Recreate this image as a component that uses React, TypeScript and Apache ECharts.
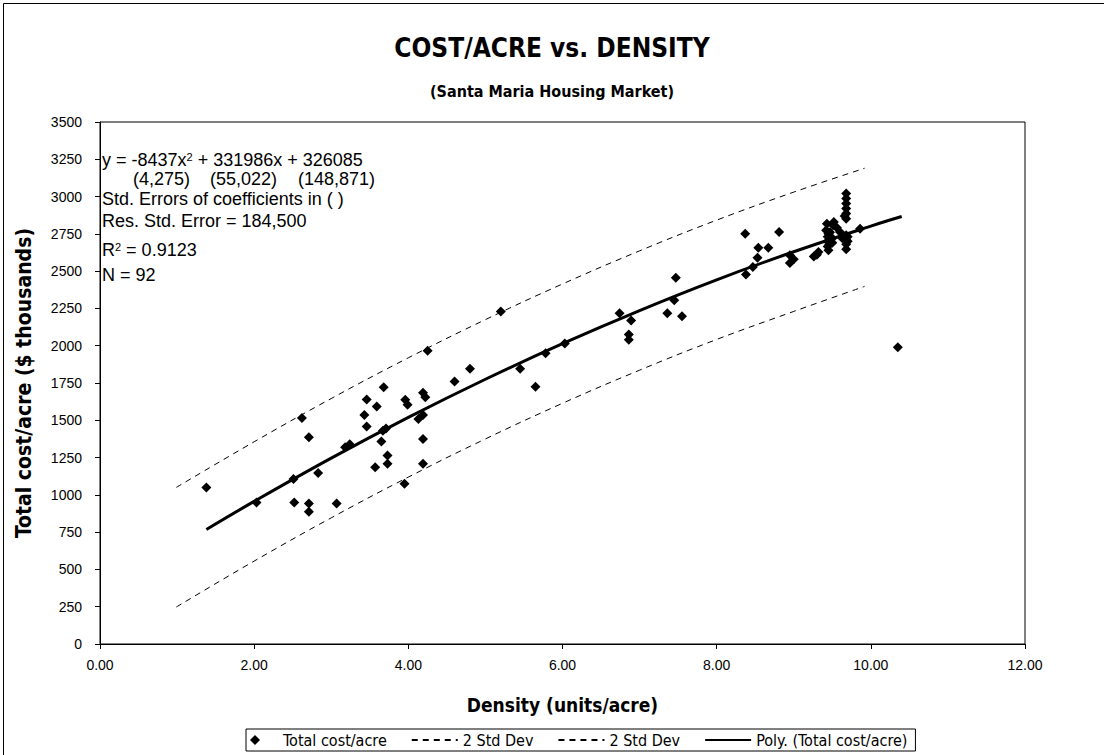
import React, { useEffect, useRef } from "react";
import * as echarts from "echarts";

// Observed data: density (units/acre) and total cost/acre ($ thousands)
const densities = [
  1.38, 2.03, 2.51, 2.52, 2.71, 2.71, 2.83, 3.07, 2.62, 2.71,
  3.18, 3.24, 3.43, 3.46, 3.46, 3.59, 3.68, 3.67, 3.71, 3.65,
  3.73, 3.73, 3.57, 3.95, 3.96, 3.99, 4.13, 4.19, 4.19, 4.22,
  4.19, 4.19, 4.25, 4.6, 4.8, 5.2, 5.45, 5.65, 5.78, 6.03,
  6.74, 6.89, 6.86, 6.86, 7.45, 7.47, 7.36, 7.55, 8.38, 8.37,
  8.54, 8.67, 8.81, 8.53, 8.47, 8.95, 8.95, 9.0, 9.26, 9.32,
  9.43, 9.42, 9.44, 9.44, 9.44, 9.45, 9.51, 9.56, 9.6, 9.68,
  9.68, 9.68, 9.68, 9.68, 9.68, 9.68, 9.68, 9.68, 9.68, 9.63,
  9.86, 10.35, 9.47, 9.5, 9.5, 9.52, 9.46, 9.7, 9.66, 9.7,
  9.3, 9.45,
];
const costs = [
  1050, 949, 1106, 949, 942, 887, 1146, 942, 1516, 1386,
  1320, 1340, 1536, 1640, 1459, 1592, 1721, 1430, 1445, 1358,
  1264, 1208, 1185, 1074, 1637, 1605, 1509, 1536, 1684, 1654,
  1375, 1208, 1966, 1760, 1845, 2230, 1845, 1725, 1950, 2015,
  2218, 2169, 2075, 2040, 2304, 2456, 2218, 2198, 2478, 2751,
  2657, 2657, 2762, 2590, 2527, 2606, 2554, 2580, 2599, 2628,
  2818, 2774, 2730, 2700, 2665, 2640, 2807, 2791, 2762, 3020,
  2987, 2953, 2920, 2886, 2852, 2740, 2711, 2680, 2646, 2720,
  2785, 1990, 2760, 2690, 2720, 2830, 2680, 2700, 2870, 2730,
  2610, 2750,
];

// Polynomial trend line
const fitX = [1.38, 2, 3, 4, 5, 6, 7, 8, 9, 10, 10.4];
const fitY = [768, 956, 1246, 1519, 1775, 2014, 2236, 2442, 2630, 2802, 2866];

// +/- 2 standard deviation bands
const bandX = [0.99, 2, 3, 4, 5, 6, 7, 8, 9, 9.92];
const upperBand = [1050, 1356, 1646, 1919, 2175, 2414, 2636, 2842, 3030, 3190];
const lowerBand = [248, 556, 846, 1119, 1375, 1614, 1836, 2042, 2230, 2398];

const xTickLabels = ["0.00", "2.00", "4.00", "6.00", "8.00", "10.00", "12.00"];
const yTickLabels = ["0", "250", "500", "750", "1000", "1250", "1500", "1750", "2000", "2250", "2500", "2750", "3000", "3250", "3500"];

const titleText = "COST/ACRE vs. DENSITY";
const subtitleText = "(Santa Maria Housing Market)";
const eqLine = "y = -8437x{sup|2} + 331986x + 326085";
const seLabels = ["(4,275)", "(55,022)", "(148,871)"];
const statLines = ["Std. Errors of coefficients in ( )", "Res. Std. Error = 184,500"];
const r2Line = "R{sup|2} = 0.9123";
const nLine = "N = 92";

const NARROW = "'Liberation Sans Narrow', 'DejaVu Sans Condensed', 'Arial Narrow', sans-serif";
const SANS = "'Liberation Sans', Arial, sans-serif";

function pair(xs: number[], ys: number[]) {
  return xs.map((x, i) => [x, ys[i]]);
}

export default function App() {
  const ref = useRef<HTMLDivElement>(null);
  useEffect(() => {
    document.body.style.margin = "0";
    if (!ref.current) return;
    const chart = echarts.init(ref.current, null, { renderer: "svg" });
    const eqStyle = { fontFamily: SANS, fontSize: 18, fill: "#000" };
    const rich = { sup: { fontFamily: SANS, fontSize: 11, verticalAlign: "top" as const, fill: "#000" } };
    const hiddenDot = { itemStyle: { opacity: 0 } };
    chart.setOption({
      animation: false,
      backgroundColor: "#fff",
      title: [
        {
          text: titleText,
          left: "center",
          top: 30,
          textStyle: { fontFamily: NARROW, fontSize: 26, fontWeight: "bold", color: "#000" },
        },
        {
          text: subtitleText,
          left: "center",
          top: 78,
          textStyle: { fontFamily: NARROW, fontSize: 16, fontWeight: "bold", color: "#000" },
        },
      ],
      grid: {
        left: 100,
        top: 122,
        right: 79,
        bottom: 111,
        show: true,
        borderColor: "#000",
        borderWidth: 1,
        backgroundColor: "#fff",
      },
      xAxis: {
        type: "value",
        min: 0,
        max: 12,
        interval: 2,
        name: "Density (units/acre)",
        nameLocation: "middle",
        nameGap: 51,
        nameTextStyle: { fontFamily: NARROW, fontSize: 19, fontWeight: "bold", color: "#000" },
        axisLine: { lineStyle: { color: "#000", width: 1 } },
        axisTick: { inside: false, length: 5, lineStyle: { color: "#000" } },
        axisLabel: {
          margin: 14,
          fontFamily: SANS,
          fontSize: 14,
          color: "#000",
          formatter: (v: number) => xTickLabels[Math.round(v / 2)] ?? "",
        },
        splitLine: { show: false },
      },
      yAxis: {
        type: "value",
        min: 0,
        max: 3500,
        interval: 250,
        name: "Total cost/acre ($ thousands)",
        nameLocation: "middle",
        nameGap: 66,
        nameTextStyle: { fontFamily: NARROW, fontSize: 21, fontWeight: "bold", color: "#000" },
        axisLine: { lineStyle: { color: "#000", width: 1 } },
        axisTick: { inside: false, length: 5, lineStyle: { color: "#000" } },
        axisLabel: {
          margin: 18,
          fontFamily: SANS,
          fontSize: 14,
          color: "#000",
          formatter: (v: number) => yTickLabels[Math.round(v / 250)] ?? "",
        },
        splitLine: { show: false },
      },
      legend: {
        left: 246,
        bottom: 4,
        orient: "horizontal",
        borderColor: "#000",
        borderWidth: 1,
        borderRadius: 0,
        padding: [3, 8, 3, 4],
        itemGap: 24,
        itemWidth: 46,
        itemHeight: 10,
        symbolKeepAspect: true,
        textStyle: { fontFamily: NARROW, fontSize: 16, color: "#000" },
        formatter: (name: string) => (name.indexOf("2 Std Dev") === 0 ? "2 Std Dev" : name),
        data: [
          { name: "Total cost/acre", icon: "path://M5 0 L10 5 L5 10 L0 5 Z" },
          { name: "2 Std Dev (upper)", ...hiddenDot },
          { name: "2 Std Dev (lower)", ...hiddenDot },
          { name: "Poly. (Total cost/acre)", ...hiddenDot },
        ],
      },
      series: [
        {
          name: "Total cost/acre",
          type: "scatter",
          symbol: "diamond",
          symbolSize: 10,
          itemStyle: { color: "#000", opacity: 1 },
          data: pair(densities, costs),
          z: 4,
        },
        {
          name: "2 Std Dev (upper)",
          type: "line",
          showSymbol: false,
          symbol: "none",
          smooth: 0.4,
          itemStyle: { color: "#000" },
          lineStyle: { color: "#000", width: 1, type: [6, 5] },
          data: pair(bandX, upperBand),
        },
        {
          name: "2 Std Dev (lower)",
          type: "line",
          showSymbol: false,
          symbol: "none",
          smooth: 0.4,
          itemStyle: { color: "#000" },
          lineStyle: { color: "#000", width: 1, type: [6, 5] },
          data: pair(bandX, lowerBand),
        },
        {
          name: "Poly. (Total cost/acre)",
          type: "line",
          showSymbol: false,
          symbol: "none",
          smooth: 0.4,
          itemStyle: { color: "#000" },
          lineStyle: { color: "#000", width: 3 },
          data: pair(fitX, fitY),
          z: 3,
        },
      ],
      graphic: [
        {
          type: "rect",
          left: 1,
          top: 1,
          shape: { x: 0, y: 0, width: 1101, height: 752 },
          style: { fill: "none", stroke: "#000", lineWidth: 1 },
          silent: true,
          z: 100,
        },
        {
          type: "text",
          x: 102,
          y: 160,
          style: { ...eqStyle, text: eqLine, rich, verticalAlign: "middle" },
          z: 50,
        },
        { type: "text", x: 133, y: 179, style: { ...eqStyle, text: seLabels[0], verticalAlign: "middle" }, z: 50 },
        { type: "text", x: 210, y: 179, style: { ...eqStyle, text: seLabels[1], verticalAlign: "middle" }, z: 50 },
        { type: "text", x: 298, y: 179, style: { ...eqStyle, text: seLabels[2], verticalAlign: "middle" }, z: 50 },
        { type: "text", x: 102, y: 199, style: { ...eqStyle, text: statLines[0], verticalAlign: "middle" }, z: 50 },
        { type: "text", x: 102, y: 221, style: { ...eqStyle, text: statLines[1], verticalAlign: "middle" }, z: 50 },
        {
          type: "text",
          x: 102,
          y: 250,
          style: { ...eqStyle, text: r2Line, rich, verticalAlign: "middle" },
          z: 50,
        },
        { type: "text", x: 102, y: 275, style: { ...eqStyle, text: nLine, verticalAlign: "middle" }, z: 50 },
      ],
    });
    return () => chart.dispose();
  }, []);
  return <div ref={ref} style={{ width: 1104, height: 755 }} />;
}
